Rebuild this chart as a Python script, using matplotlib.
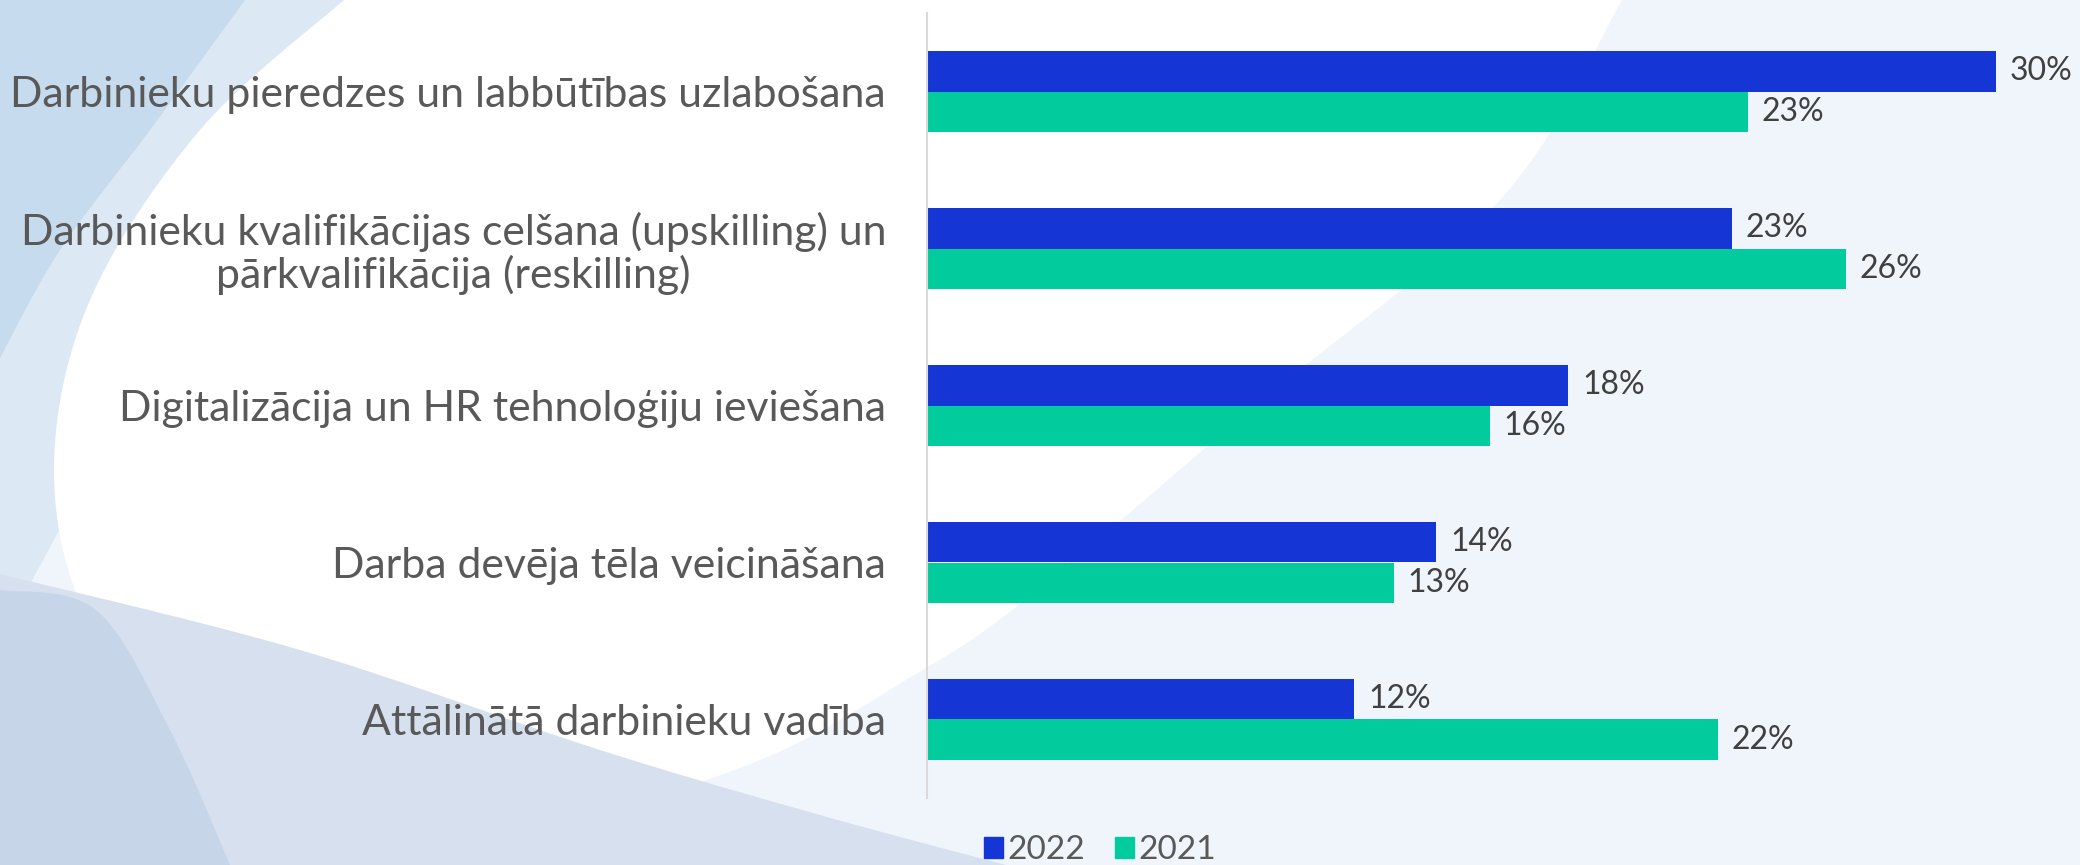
import matplotlib
matplotlib.use("Agg")
import matplotlib.pyplot as plt
import numpy as np
from matplotlib.patches import Polygon, Patch

categories = [
    "Darbinieku pieredzes un labbūtības uzlabošana",
    "Darbinieku kvalifikācijas celšana (upskilling) un\npārkvalifikācija (reskilling)",
    "Digitalizācija un HR tehnoloģiju ieviešana",
    "Darba devēja tēla veicināšana",
    "Attālinātā darbinieku vadība",
]
# bar lengths (labels show rounded percentages)
values_2022 = [30.0, 22.6, 18.0, 14.3, 12.0]
values_2021 = [23.05, 25.8, 15.8, 13.1, 22.2]
series_names = ["2022", "2021"]

c2022 = "#1535D4"
c2021 = "#02CC9E"

plt.rcParams['font.family'] = ['Lato', 'DejaVu Sans']


def smooth(pts, n=20):
    """Catmull-Rom smoothing of an open list of decoration points."""
    p = np.asarray(pts, float)
    p = np.vstack([p[0], p, p[-1]])
    out = []
    for i in range(1, len(p) - 2):
        p0, p1, p2, p3 = p[i-1], p[i], p[i+1], p[i+2]
        for t in np.linspace(0, 1, n, endpoint=False):
            t2, t3 = t*t, t*t*t
            out.append(0.5*((2*p1) + (-p0 + p2)*t + (2*p0 - 5*p1 + 4*p2 - p3)*t2
                            + (-p0 + 3*p1 - 3*p2 + p3)*t3))
    out.append(p[-2])
    return np.array(out)


fig = plt.figure(figsize=(20.8, 8.65), dpi=100)
fig.patch.set_facecolor("#F0F5FC")

# decorative background
bg = fig.add_axes([0, 0, 1, 1], zorder=0)
bg.set_xlim(0, 2080); bg.set_ylim(865, 0); bg.axis("off")
light = np.vstack([[[0, 0]], smooth([[430, 0], [250, 200], [120, 420], [0, 640]]), [[0, 640]]])
bg.add_patch(Polygon(light, closed=True, color="#DCE9F5", lw=0))
strip = np.vstack([[[0, 0]], smooth([[245, 0], [150, 130], [60, 250], [0, 358]])])
bg.add_patch(Polygon(strip, closed=True, color="#C6DBEE", lw=0))
white = smooth([[344, 0], [200, 130], [90, 300], [54, 470], [90, 620], [200, 710], [400, 770],
                [600, 800], [760, 760], [911, 677], [1025, 600], [1250, 410], [1500, 200],
                [1622, 0]])
bg.add_patch(Polygon(white, closed=True, color="white", lw=0))
band = np.vstack([smooth([[0, 574], [300, 650], [600, 750], [820, 815], [1006, 865]]), [[0, 865]]])
bg.add_patch(Polygon(band, closed=True, color="#D6E0EE", lw=0))
dark = np.vstack([smooth([[0, 590], [96, 610], [170, 730], [230, 865]]), [[0, 865]]])
bg.add_patch(Polygon(dark, closed=True, color="#C7D5E9", lw=0))

ax = fig.add_axes([927/2080, (865-798)/865, (2060-927)/2080, 785/865], zorder=1)
ax.patch.set_alpha(0)

y = np.arange(len(categories))
h = 0.258
b1 = ax.barh(y - h/2, values_2022, height=h, color=c2022, label=series_names[0])
b2 = ax.barh(y + h/2, values_2021, height=h, color=c2021, label=series_names[1])

for bars, vals in ((b1, values_2022), (b2, values_2021)):
    ax.bar_label(bars, labels=[f"{v:.0f}%" for v in vals], padding=10,
                 fontsize=23, color="#404040")

ax.set_ylim(len(categories) - 0.5, -0.5)
ax.set_xlim(0, (2060-927)/35.62)
ax.set_yticks(y)
ax.set_yticklabels(categories, fontsize=30.8, color="#595959", ha="right",
                   multialignment="center", linespacing=1.1)
ax.tick_params(axis="y", length=0, pad=29.5)
ax.set_xticks([])
for s in ("top", "right", "bottom"):
    ax.spines[s].set_visible(False)
ax.spines["left"].set_color("#D9D9D9")
ax.spines["left"].set_linewidth(1.5)

handles = [Patch(color=c2022, label=series_names[0]), Patch(color=c2021, label=series_names[1])]
fig.legend(handles=handles, loc="center", bbox_to_anchor=(0.529, 0.017), ncol=2,
           frameon=False, fontsize=24, labelcolor="#595959",
           handlelength=0.55, handleheight=0.55, handletextpad=0.15, columnspacing=0.9,
           borderpad=0)

fig.savefig("out.png", dpi=100, facecolor=fig.get_facecolor())
